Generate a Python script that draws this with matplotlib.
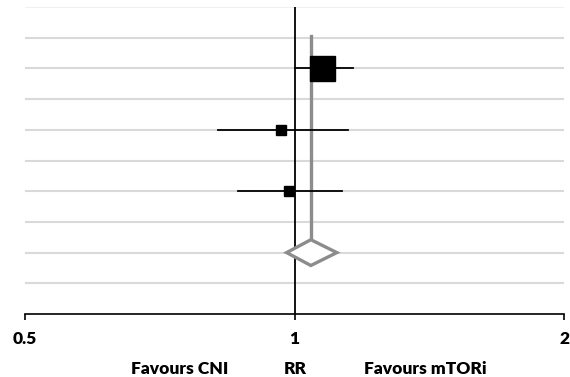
import matplotlib.pyplot as plt
import numpy as np

# study rows (from top), relative risks and 95% CI
rows = [8, 6, 4]
rr = [1.072, 0.966, 0.987]
ci_lo = [1.00, 0.821, 0.865]
ci_hi = [1.161, 1.148, 1.129]
box_size = [18, 7.5, 7.5]

# pooled estimate
pooled_row = 2
pooled_rr = 1.043
pooled_lo = 0.980
pooled_hi = 1.115

xticks = [0.5, 1, 2]
xtick_labels = ["0.5", "1", "2"]

plt.rcParams['font.family'] = ['Lato', 'DejaVu Sans']

fig = plt.figure(figsize=(5.7, 3.77), dpi=100)
ax = fig.add_axes([25 / 570, 1 - 314 / 377, 539 / 570, 307 / 377])
ax.set_xscale('log')
ax.set_xlim(0.5, 2)
ax.set_ylim(0, 10)

# horizontal gridlines
for y in range(1, 10):
    ax.axhline(y, color="#d9d9d9", linewidth=1.5, zorder=0)
ax.axhline(10, color="#f0f0f0", linewidth=1.5, zorder=0)

# line of no effect
ax.plot([1, 1], [0, 10], color="black", linewidth=1.3, zorder=2)

# pooled estimate line
half_h = 0.42
ax.plot([pooled_rr, pooled_rr], [pooled_row + half_h, 9.05], color="#8c8c8c",
        linewidth=2.4, zorder=3)

# individual studies
for y, r, lo, hi, s in zip(rows, rr, ci_lo, ci_hi, box_size):
    ax.plot([lo, hi], [y, y], color="black", linewidth=1.3, zorder=4)
    ax.plot(r, y, marker="s", markersize=s, color="black", linestyle="none", zorder=5)

# pooled diamond
dx = [pooled_lo, pooled_rr, pooled_hi, pooled_rr, pooled_lo]
dy = [pooled_row, pooled_row + half_h, pooled_row, pooled_row - half_h, pooled_row]
ax.fill(dx, dy, facecolor="white", edgecolor="#8c8c8c", linewidth=2.4, zorder=6)

for side in ["left", "top", "right"]:
    ax.spines[side].set_visible(False)
ax.spines["bottom"].set_linewidth(1.2)
ax.set_yticks([])
ax.set_xticks(xticks)
ax.set_xticklabels(xtick_labels, fontsize=12.5, fontweight="heavy")
ax.xaxis.set_minor_locator(plt.NullLocator())
ax.tick_params(axis="x", direction="out", length=4, width=1.2, pad=8)

label_y = 1 - 369 / 377
fig.text(180 / 570, label_y, "Favours CNI", ha="center", va="center",
         fontsize=12.5, fontweight="heavy")
fig.text(295 / 570, label_y, "RR", ha="center", va="center",
         fontsize=12.5, fontweight="heavy")
fig.text(425 / 570, label_y, "Favours mTORi", ha="center", va="center",
         fontsize=12.5, fontweight="heavy")

fig.savefig("out.png", dpi=100)
